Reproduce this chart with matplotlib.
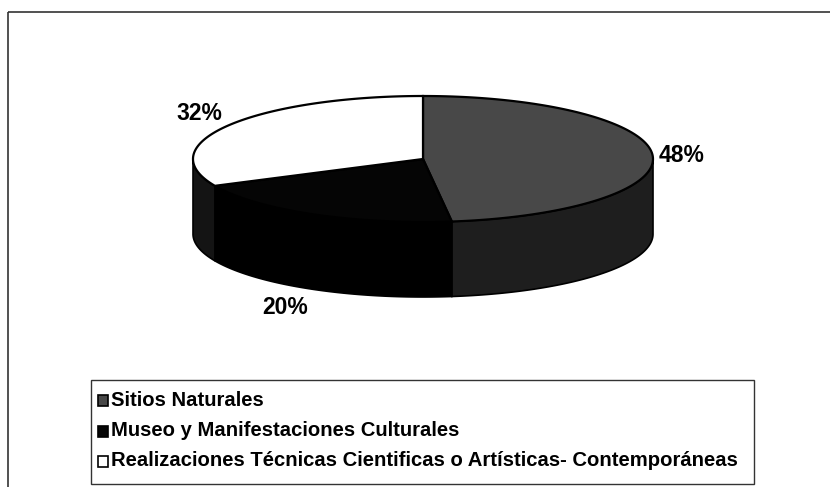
import numpy as np
import matplotlib.pyplot as plt
from matplotlib.patches import Polygon, Rectangle

# datos
categorias = ['Sitios Naturales',
              'Museo y Manifestaciones Culturales',
              'Realizaciones Técnicas Cientificas o Artísticas- Contemporáneas']
porcentajes = [48, 20, 32]
etiquetas = ['48%', '20%', '32%']
color_tapa = ['#484848', '#050505', '#ffffff']
color_lado = ['#1e1e1e', '#000000', '#141414']

plt.rcParams['font.family'] = ['Liberation Sans', 'DejaVu Sans']

fig = plt.figure(figsize=(8.3, 4.87), dpi=100)
ax = fig.add_axes([0, 0, 1, 1])
ax.set_xlim(0, 830)
ax.set_ylim(487, 0)
ax.axis('off')

# marco exterior
ax.add_patch(Rectangle((8, 12), 830, 490, fill=False, ec='#333333', lw=1.2))

# geometria del pastel 3D
cx, cy = 423, 159
rx, ry = 230, 63
prof = 75


def punto(t, dy=0):
    r = np.radians(t)
    return cx + rx * np.cos(r), cy - ry * np.sin(r) + dy


def arco(t1, t2, dy=0, n=120):
    ts = np.linspace(t1, t2, n)
    return [punto(t, dy) for t in ts]


# angulos (sentido horario desde las 12)
inicio = 90
angulos = []
acum = 0
for v in porcentajes:
    t1 = inicio - acum * 3.6
    t2 = t1 - v * 3.6
    angulos.append((t1, t2))
    acum += v

# lados visibles (mitad frontal)
for (t1, t2), col in zip(angulos, color_lado):
    lo, hi = t2, t1
    for k in range(-2, 2):
        a, b = max(lo, -180 + 360 * k), min(hi, 360 * k)
        if a < b:
            pts = arco(a, b) + arco(b, a, prof)
            ax.add_patch(Polygon(pts, closed=True, fc=col, ec='black', lw=1.2))

# tapas
for (t1, t2), col in zip(angulos, color_tapa):
    pts = [(cx, cy)] + arco(t1, t2)
    ax.add_patch(Polygon(pts, closed=True, fc=col, ec='black', lw=1.6))

# etiquetas de porcentaje
pos_etq = [(682, 155), (285, 307), (199, 114)]
for (x, y), txt in zip(pos_etq, etiquetas):
    ax.text(x, y, txt, ha='center', va='center', fontsize=16.5,
            fontweight='bold', color='black')

# leyenda
ax.add_patch(Rectangle((91, 380), 663, 104, fill=False, ec='#333333', lw=1.0))
filas = [400, 431, 461]
for y, cat, col in zip(filas, categorias, color_tapa):
    ax.add_patch(Rectangle((98, y - 5.5), 10, 11, fc=col, ec='black', lw=1.2))
    ax.text(111, y, cat, ha='left', va='center', fontsize=14.6,
            fontweight='bold', color='black')

fig.savefig('out.png', dpi=100)
